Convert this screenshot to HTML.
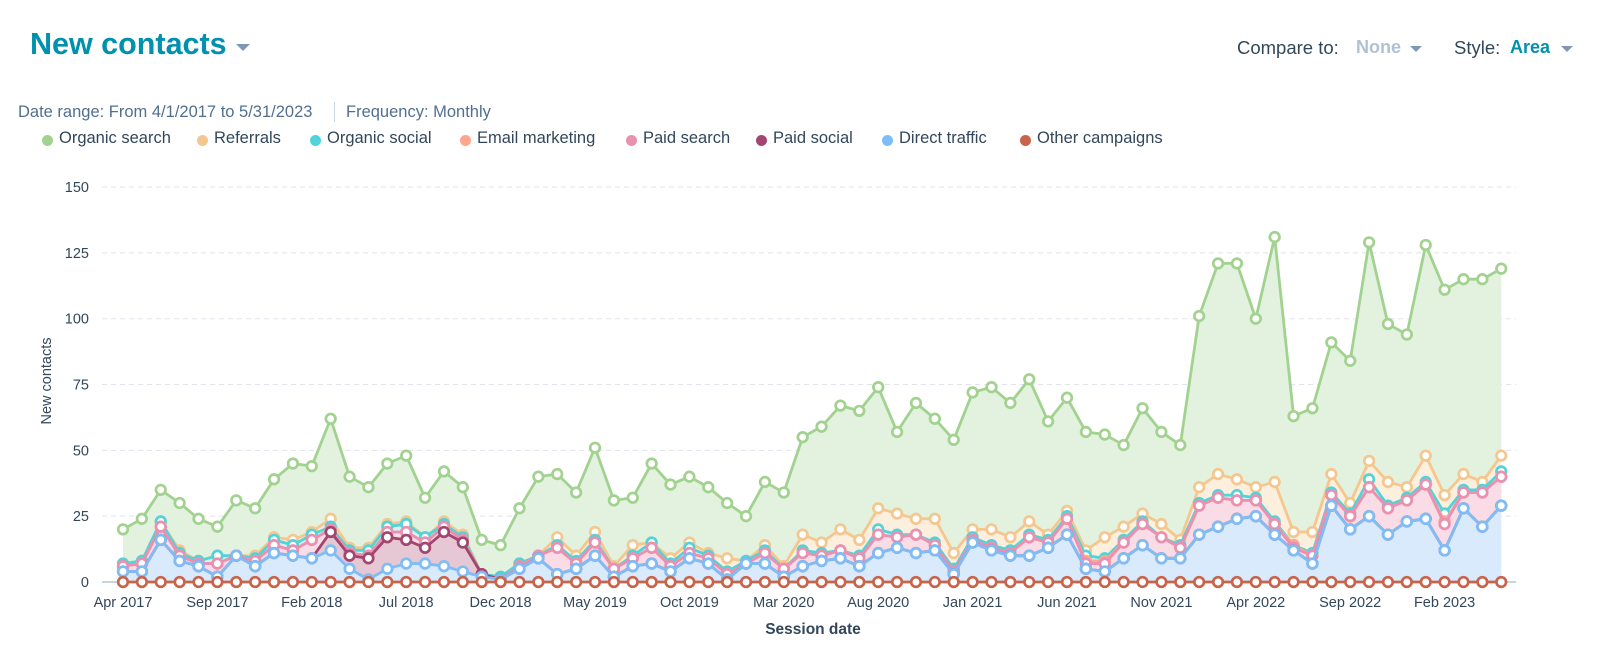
<!DOCTYPE html>
<html><head><meta charset="utf-8">
<style>
html,body{margin:0;padding:0;background:#fff;}
body{width:1600px;height:670px;position:relative;overflow:hidden;font-family:"Liberation Sans",sans-serif;color:#33475b;}
.abs{position:absolute;white-space:nowrap;}
.tri{position:absolute;width:0;height:0;border-left:6px solid transparent;border-right:6px solid transparent;border-top:6px solid #7c98b6;}
.leg{position:absolute;top:129px;font-size:16.5px;color:#33475b;white-space:nowrap;}
.leg i{position:absolute;left:-17px;top:6px;width:11px;height:11px;border-radius:50%;}
</style></head><body>
<div class="abs" style="left:30px;top:27px;font-size:30.5px;font-weight:bold;color:#0091ae;">New contacts</div>
<div class="tri" style="left:236px;top:44px;border-left-width:7px;border-right-width:7px;border-top-width:7px;"></div>
<div class="abs" style="left:1237px;top:37px;font-size:18.5px;color:#33475b;">Compare to:</div>
<div class="abs" style="left:1356px;top:37px;font-size:18px;font-weight:bold;color:#b0c1d4;">None</div>
<div class="tri" style="left:1410px;top:46px;"></div>
<div class="abs" style="left:1454px;top:37px;font-size:18.5px;color:#33475b;">Style:</div>
<div class="abs" style="left:1510px;top:37px;font-size:18px;font-weight:bold;color:#0091ae;">Area</div>
<div class="tri" style="left:1561px;top:46px;"></div>
<div class="abs" style="left:18px;top:103px;font-size:16.5px;color:#516f90;">Date range: From 4/1/2017 to 5/31/2023</div>
<div class="abs" style="left:334px;top:102px;width:1px;height:20px;background:#cbd6e2;"></div>
<div class="abs" style="left:346px;top:103px;font-size:16.5px;color:#516f90;">Frequency: Monthly</div>

<div class="leg" style="left:59px;"><i style="background:#a2d28f"></i>Organic search</div>
<div class="leg" style="left:214px;"><i style="background:#f5c78e"></i>Referrals</div>
<div class="leg" style="left:327px;"><i style="background:#51d3d9"></i>Organic social</div>
<div class="leg" style="left:477px;"><i style="background:#fea58e"></i>Email marketing</div>
<div class="leg" style="left:643px;"><i style="background:#ea90b1"></i>Paid search</div>
<div class="leg" style="left:773px;"><i style="background:#a2466f"></i>Paid social</div>
<div class="leg" style="left:899px;"><i style="background:#7fbdf7"></i>Direct traffic</div>
<div class="leg" style="left:1037px;"><i style="background:#c9634b"></i>Other campaigns</div>

<svg id="chart" width="1600" height="670" style="position:absolute;left:0;top:0;" xmlns="http://www.w3.org/2000/svg"></svg>
<script>
const tickLabels = ["Apr 2017","Sep 2017","Feb 2018","Jul 2018","Dec 2018","May 2019","Oct 2019","Mar 2020","Aug 2020","Jan 2021","Jun 2021","Nov 2021","Apr 2022","Sep 2022","Feb 2023"];
const yTicks = [0,25,50,75,100,125,150];
const direct = [4,4,16,8,6,2,10,6,11,10,9,12,5,1,5,7,7,6,4,2,1,5,9,3,5,10,2,6,7,4,9,7,1,7,7,2,6,8,9,6,11,13,11,12,3,15,12,10,10,13,18,5,4,9,14,9,9,18,21,24,25,18,12,7,29,20,25,18,23,24,12,28,21,29];
const paidSocial = [0,0,0,0,0,0,0,0,0,0,0,7,5,8,12,9,6,13,11,1,0,0,0,0,0,0,0,0,0,0,0,0,0,0,0,0,0,0,0,0,0,0,0,0,0,0,0,0,0,0,0,0,0,0,0,0,0,0,0,0,0,0,0,0,0,0,0,0,0,0,0,0,0,0];
const paidSearch = [2,3,5,2,1,5,0,2,3,2,7,1,1,1,2,3,2,2,1,0,0,1,1,10,2,5,3,3,6,2,2,2,2,0,4,3,5,2,3,3,7,4,7,2,1,1,1,1,7,2,6,2,3,6,8,8,4,11,11,7,6,4,1,3,4,5,11,10,8,13,10,6,13,11];
const email = [0,0,0,0,0,0,0,0,0,0,0,0,0,0,0,0,0,0,0,0,0,0,0,0,0,0,0,0,0,0,0,0,0,0,0,0,0,0,0,0,0,0,0,0,0,0,0,0,0,0,0,1,1,0,0,0,0,0,0,0,0,0,1,0,0,0,0,0,0,0,1,0,0,0];
const organicSocial = [1,1,2,1,1,3,0,1,2,2,2,1,1,2,2,3,2,1,1,0,1,1,0,1,1,1,0,1,2,1,2,1,1,1,1,0,1,1,0,1,2,1,0,1,1,1,1,1,1,1,1,2,1,1,1,0,1,1,1,2,1,1,0,1,1,1,3,1,1,1,3,1,1,2];
const referrals = [0,0,0,1,0,0,0,1,1,2,1,3,1,1,1,1,0,1,1,0,0,0,0,3,2,3,1,4,0,2,2,1,5,0,2,1,6,4,8,6,8,8,6,9,6,3,6,5,5,2,2,2,8,5,3,5,2,6,8,6,4,15,5,8,7,4,7,9,4,10,7,6,3,6];
const organic = [13,16,12,18,16,11,21,18,22,29,25,38,27,23,23,25,15,19,18,13,12,21,30,24,24,32,25,18,30,28,25,25,21,17,24,28,37,44,47,49,46,31,44,38,43,52,54,51,54,43,43,45,39,31,40,35,36,65,80,82,64,93,44,47,50,54,83,60,58,80,78,74,77,71];
const otherCampaigns = [0,0,0,0,0,0,0,0,0,0,0,0,0,0,0,0,0,0,0,0,0,0,0,0,0,0,0,0,0,0,0,0,0,0,0,0,0,0,0,0,0,0,0,0,0,0,0,0,0,0,0,0,0,0,0,0,0,0,0,0,0,0,0,0,0,0,0,0,0,0,0,0,0,0];

const NS = "http://www.w3.org/2000/svg";
const svg = document.getElementById("chart");
const X0 = 123, STEP = 18.88, Y0 = 582, PX = 2.633;
function xs(i){ return X0 + i * STEP; }
function ys(v){ return Y0 - v * PX; }
function mk(tag, attrs){ const e = document.createElementNS(NS, tag); for (const k in attrs) e.setAttribute(k, attrs[k]); svg.appendChild(e); return e; }

yTicks.forEach(v => {
  if (v > 0) {
    const g = mk("line", {x1:102, x2:1516, y1:ys(v), y2:ys(v), stroke:"#dfe3eb", "stroke-width":1, "stroke-dasharray":"5,4"});
    
    
  }
  const t = mk("text", {x:89, y:ys(v)+5, "text-anchor":"end", "font-size":14.5, fill:"#33475b", "font-family":"Liberation Sans, sans-serif"});
  t.textContent = v;
  
  
});

const n = direct.length;
const series = [
  {key:"direct", vals:direct, line:"#7fbdf7", fill:"#d9eafd"},
  {key:"paid-social", vals:paidSocial, line:"#a2466f", fill:"#e6c8d4"},
  {key:"paid-search", vals:paidSearch, line:"#ea90b1", fill:"#f9dce6"},
  {key:"email-marketing", vals:email, line:"#fea58e", fill:"#fde3da"},
  {key:"organic-social", vals:organicSocial, line:"#51d3d9", fill:"#d6f3f4"},
  {key:"referrals", vals:referrals, line:"#f5c78e", fill:"#fcefdd"},
  {key:"organic-search", vals:organic, line:"#a2d28f", fill:"#e3f2df"}
];
const cum = [];
let prev = new Array(n).fill(0);
series.forEach(s => { const top = prev.map((p,i) => p + s.vals[i]); cum.push({s, top, base: prev}); prev = top; });

cum.forEach(c => {
  let pts = [];
  for (let i = 0; i < n; i++) pts.push(xs(i) + "," + ys(c.top[i]));
  for (let i = n-1; i >= 0; i--) pts.push(xs(i) + "," + ys(c.base[i]));
  const a = mk("polygon", {points: pts.join(" "), fill: c.s.fill, stroke: "none"});
  
  
});

const ax = mk("line", {x1:102, x2:1516, y1:Y0, y2:Y0, stroke:"#b7c6d6", "stroke-width":1.5});


tickLabels.forEach((lab, k) => {
  const i = k * 5;
  const tk = mk("line", {x1:xs(i), x2:xs(i), y1:Y0, y2:Y0+5, stroke:"#b7c6d6", "stroke-width":1});
  
  
  const t = mk("text", {x:xs(i), y:607, "text-anchor":"middle", "font-size":14.5, fill:"#33475b", "font-family":"Liberation Sans, sans-serif"});
  t.textContent = lab;
  
  
});

const order = [6,5,4,3,2,1,0];
function drawLine(key, tops, color) {
  const pts = tops.map((v,i) => xs(i) + "," + ys(v)).join(" ");
  const l = mk("polyline", {points: pts, fill:"none", stroke:color, "stroke-width":2.8, "stroke-linejoin":"round"});
  
  
  tops.forEach((v,i) => {
    const c = mk("circle", {cx:xs(i), cy:ys(v), r:4.8, fill:"#fff", stroke:color, "stroke-width":2.7});
    
    
  });
}
order.forEach(k => drawLine(cum[k].s.key, cum[k].top, cum[k].s.line));
drawLine("other-campaigns", otherCampaigns, "#c9634b");

const yt = mk("text", {x:0, y:0, transform:"translate(51,381) rotate(-90)", "text-anchor":"middle", "font-size":14.5, fill:"#33475b", "font-family":"Liberation Sans, sans-serif"});
yt.textContent = "New contacts";


const xt = mk("text", {x:813, y:634, "text-anchor":"middle", "font-size":15.5, "font-weight":"bold", fill:"#33475b", "font-family":"Liberation Sans, sans-serif"});
xt.textContent = "Session date";


</script>
</body></html>
